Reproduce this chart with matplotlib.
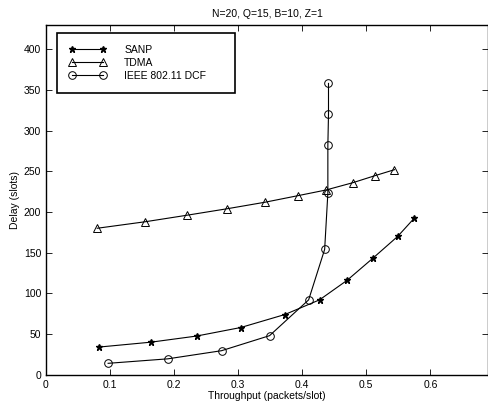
import numpy as np
import matplotlib
matplotlib.use('Agg')
import matplotlib.pyplot as plt

plt.rcParams['font.family'] = ['Liberation Sans', 'DejaVu Sans']

# values
sanpX = [0.083, 0.164, 0.235, 0.304, 0.373, 0.427, 0.470, 0.510, 0.549, 0.575]
sanpY = [34, 40, 47.5, 58, 74, 92, 116, 143, 170, 192.5]
tdmaX = [0.080, 0.155, 0.220, 0.283, 0.342, 0.393, 0.437, 0.479, 0.513, 0.544]
tdmaY = [180, 188, 196, 204, 212, 220, 227, 236, 244.5, 252]
dcfX = [0.097, 0.190, 0.274, 0.349, 0.410, 0.435, 0.440, 0.440, 0.441, 0.441]
dcfY = [14, 19.5, 29.5, 48, 92, 154, 223, 282, 320, 358]

fig = plt.figure(figsize=(4.89, 4.04), dpi=100)
ax = fig.add_axes([0.094, 0.0725, 0.904, 0.866])

ax.plot(sanpX, sanpY, 'k-', marker='*', ms=5, lw=0.8, label='SANP')
ax.plot(tdmaX, tdmaY, 'k-', marker='^', mfc='none', ms=6, mew=0.7, lw=0.8, label='TDMA')
ax.plot(dcfX, dcfY, 'k-', marker='o', mfc='none', ms=5.5, mew=0.7, lw=0.8, label='IEEE 802.11 DCF')

ax.set_xlim(0, 0.69)
ax.set_ylim(0, 430)
ax.set_xticks([0, 0.1, 0.2, 0.3, 0.4, 0.5, 0.6])
ax.set_xticklabels(['0', '0.1', '0.2', '0.3', '0.4', '0.5', '0.6'])
ax.set_yticks(np.arange(0, 401, 50))
ax.tick_params(direction='in', top=True, right=True, labelsize=7.5, length=4, width=0.6)
for s in ax.spines.values():
	s.set_linewidth(1.0)

ax.set_xlabel('Throughput (packets/slot)', fontsize=7.5, labelpad=1)
ax.set_ylabel('Delay (slots)', fontsize=7.5, labelpad=3)
ax.set_title('N=20, Q=15, B=10, Z=1', fontsize=7.5, pad=6)

leg = ax.legend(loc='upper left', fontsize=7.5, numpoints=2, handlelength=3.6, handletextpad=1.7,
	fancybox=False, edgecolor='k', framealpha=1, borderpad=1.15, labelspacing=0.3,
	bbox_to_anchor=(0.025, 0.977, 0.403, 0.0), mode='expand', borderaxespad=0)
leg.get_frame().set_linewidth(1.2)

fig.savefig('out.png', dpi=100)
